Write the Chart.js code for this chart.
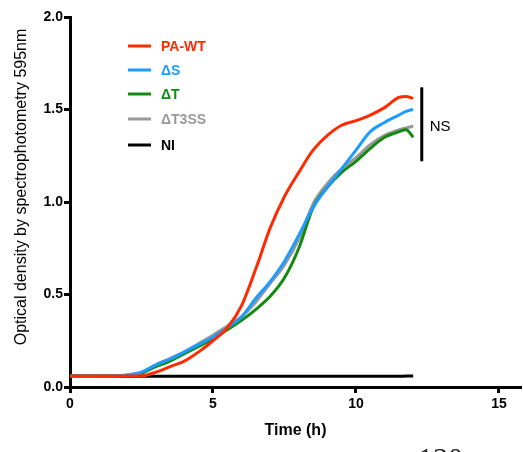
<!DOCTYPE html>
<html>
<head>
<meta charset="utf-8">
<script src="https://cdn.jsdelivr.net/npm/chart.js@4"></script>
<style>
  html, body { margin: 0; padding: 0; background: #fff; }
  #wrap { width: 523px; height: 452px; }
</style>
</head>
<body>
<div id="wrap"><canvas id="growth" width="523" height="452"></canvas></div>
<script>
// time points (h)
const hours = [0, 0.5, 1, 1.5, 2, 2.5, 3, 3.5, 4, 4.5, 5, 5.5, 6, 6.5, 7, 7.5, 8, 8.5, 9, 9.5, 10, 10.5, 11, 11.5, 11.75, 12];

// OD595 per strain
const paWT   = [0.06, 0.06, 0.06, 0.06, 0.06, 0.06, 0.08, 0.11, 0.14, 0.19, 0.25, 0.32, 0.44, 0.64, 0.86, 1.03, 1.16, 1.28, 1.36, 1.415, 1.44, 1.47, 1.51, 1.565, 1.57, 1.56];
const deltaS = [0.06, 0.06, 0.06, 0.06, 0.065, 0.08, 0.12, 0.15, 0.19, 0.23, 0.27, 0.32, 0.38, 0.48, 0.57, 0.68, 0.82, 0.97, 1.08, 1.18, 1.28, 1.38, 1.43, 1.47, 1.49, 1.50];
const deltaT = [0.06, 0.06, 0.06, 0.06, 0.06, 0.075, 0.11, 0.14, 0.18, 0.22, 0.26, 0.31, 0.36, 0.42, 0.49, 0.59, 0.75, 0.97, 1.08, 1.16, 1.22, 1.29, 1.35, 1.38, 1.39, 1.35];
const deltaT3SS = [0.06, 0.06, 0.06, 0.06, 0.065, 0.08, 0.12, 0.155, 0.19, 0.235, 0.28, 0.33, 0.38, 0.46, 0.56, 0.66, 0.80, 0.99, 1.10, 1.18, 1.24, 1.31, 1.36, 1.39, 1.40, 1.41];
const nonInf = [0.06, 0.06, 0.058, 0.058, 0.058, 0.058, 0.058, 0.058, 0.058, 0.058, 0.058, 0.058, 0.058, 0.058, 0.058, 0.058, 0.058, 0.058, 0.058, 0.058, 0.058, 0.058, 0.058, 0.058, 0.059, 0.06];

const strainNames = ["PA-WT", "\u0394S", "\u0394T", "\u0394T3SS", "NI"];
const strainColors = ["#ff2a00", "#1e9bff", "#128a12", "#999999", "#000000"];
const xTicks = [0, 5, 10, 15];
const yTicks = [0, 0.5, 1.0, 1.5, 2.0];

function pts(vals) {
    return hours.map((h, i) => ({ x: h, y: vals[i] }));
}

// legend, NS bracket, y title and stray page text
const overlay = {
    id: "overlay",
    afterDraw(chart) {
        const ctx = chart.ctx;
        const xs = chart.scales.x;
        const ys = chart.scales.y;
        ctx.save();

        // y title
        ctx.save();
        ctx.translate(22, 187);
        ctx.rotate(-Math.PI / 2);
        ctx.fillStyle = "#000";
        ctx.font = '16px "Liberation Sans", Arial, sans-serif';
        ctx.textAlign = "center";
        ctx.textBaseline = "middle";
        ctx.fillText("Optical density by spectrophotometry 595nm", 0, 0);
        ctx.restore();

        // legend
        const rows = [46, 70, 94, 119, 145];
        ctx.font = 'bold 14px "Liberation Sans", Arial, sans-serif';
        ctx.textBaseline = "middle";
        ctx.textAlign = "left";
        strainNames.forEach((name, i) => {
            ctx.strokeStyle = strainColors[i];
            ctx.lineWidth = 3;
            ctx.beginPath();
            ctx.moveTo(128, rows[i]);
            ctx.lineTo(151, rows[i]);
            ctx.stroke();
            ctx.fillStyle = strainColors[i];
            ctx.fillText(name, 161, rows[i] + 1);
        });

        // NS bracket
        const bx = xs.getPixelForValue(12.3);
        ctx.strokeStyle = "#000";
        ctx.lineWidth = 3;
        ctx.beginPath();
        ctx.moveTo(bx, ys.getPixelForValue(1.62));
        ctx.lineTo(bx, ys.getPixelForValue(1.22));
        ctx.stroke();
        ctx.fillStyle = "#000";
        ctx.font = '15px "Liberation Sans", Arial, sans-serif';
        ctx.fillText("NS", bx + 8, ys.getPixelForValue(1.405));

        // page number cut off at the bottom
        ctx.fillStyle = "#222";
        ctx.font = '30px "Liberation Serif", serif';
        ctx.textBaseline = "alphabetic";
        ctx.fillText("130", 418, 468);
        ctx.restore();
    }
};

Chart.defaults.font.family = '"Liberation Sans", Arial, sans-serif';
Chart.defaults.color = "#000";

const series = [paWT, deltaS, deltaT, deltaT3SS, nonInf];

new Chart(document.getElementById("growth").getContext("2d"), {
    type: "line",
    data: {
        datasets: series.map((vals, i) => ({
            label: strainNames[i],
            data: pts(vals),
            borderColor: strainColors[i],
            borderWidth: 3,
            pointRadius: 0,
            fill: false,
            cubicInterpolationMode: "monotone"
        }))
    },
    options: {
        responsive: false,
        animation: false,
        layout: { padding: { top: 17, right: 2, left: 0, bottom: 0 } },
        plugins: {
            legend: { display: false },
            tooltip: { enabled: false }
        },
        scales: {
            x: {
                type: "linear",
                min: 0,
                max: 15.77,
                afterFit(scale) { scale.height = 65; },
                afterBuildTicks(scale) { scale.ticks = xTicks.map(v => ({ value: v })); },
                ticks: {
                    padding: 3,
                    font: { size: 14, weight: "bold" },
                    color: "#000"
                },
                grid: {
                    drawOnChartArea: false,
                    drawTicks: true,
                    tickLength: 6,
                    tickWidth: 3,
                    tickColor: "#000"
                },
                border: { display: true, color: "#000", width: 3 },
                title: {
                    display: true,
                    text: "Time (h)",
                    font: { size: 16, weight: "bold" },
                    color: "#000",
                    padding: { top: 0, bottom: 12 }
                }
            },
            y: {
                min: 0,
                max: 2,
                afterFit(scale) { scale.width = 70; },
                afterBuildTicks(scale) { scale.ticks = yTicks.map(v => ({ value: v })); },
                ticks: {
                    padding: 1,
                    font: { size: 14, weight: "bold" },
                    color: "#000",
                    callback: v => Number(v).toFixed(1)
                },
                grid: {
                    drawOnChartArea: false,
                    drawTicks: true,
                    tickLength: 6,
                    tickWidth: 3,
                    tickColor: "#000"
                },
                border: { display: true, color: "#000", width: 3 }
            }
        }
    },
    plugins: [overlay]
});
</script>
</body>
</html>
